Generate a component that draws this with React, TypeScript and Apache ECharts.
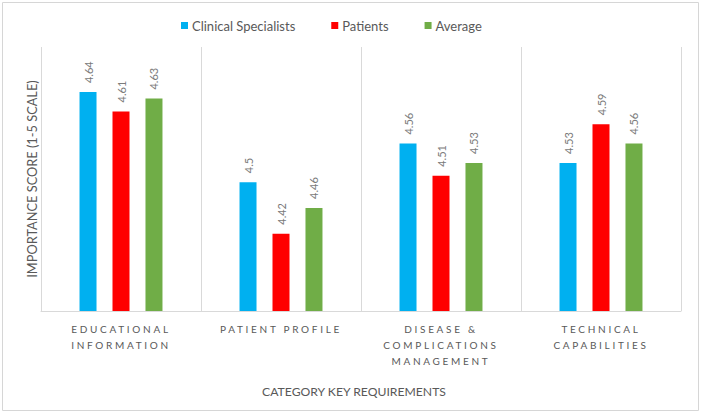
import React, { useEffect, useRef } from "react";
import * as echarts from "echarts";

const categories = [
  "EDUCATIONAL\nINFORMATION",
  "PATIENT PROFILE",
  "DISEASE &\nCOMPLICATIONS\nMANAGEMENT",
  "TECHNICAL\nCAPABILITIES",
];
const seriesNames = ["Clinical Specialists", "Patients", "Average"];
const clinicalSpecialists = [4.64, 4.5, 4.56, 4.53];
const patients = [4.61, 4.42, 4.51, 4.59];
const average = [4.63, 4.46, 4.53, 4.56];
const colors = ["#00B0F0", "#FF0000", "#70AD47"];
const yAxisName = "IMPORTANCE SCORE (1-5 SCALE)";
const xAxisTitle = "CATEGORY KEY REQUIREMENTS";

const labelLines = new Set(
  categories.flatMap((c) => c.split("\n").map((s) => s.trim()))
);

export default function App() {
  const ref = useRef<HTMLDivElement>(null);
  useEffect(() => {
    if (!ref.current) return;
    const chart = echarts.init(ref.current, undefined, { renderer: "svg" });
    const dataSets = [clinicalSpecialists, patients, average];
    const font = "Lato";
    chart.setOption({
      animation: false,
      backgroundColor: "#ffffff",
      textStyle: { fontFamily: font },
      legend: {
        left: 176,
        top: 14,
        itemWidth: 7,
        itemHeight: 7,
        itemGap: 36,
        icon: "rect",
        textStyle: { color: "#595959", fontSize: 13, fontFamily: font, padding: [0, 0, 0, -1] },
        data: seriesNames,
      },
      grid: { left: 41, right: 21, top: 47, bottom: 102 },
      xAxis: {
        type: "category",
        data: categories,
        axisLine: { show: true, lineStyle: { color: "#d9d9d9", width: 1 } },
        axisTick: { show: false },
        splitLine: { show: true, interval: 0, lineStyle: { color: "#d9d9d9", width: 1 } },
        axisLabel: {
          interval: 0,
          color: "#595959",
          fontSize: 10,
          fontFamily: font,
          lineHeight: 16,
          margin: 10,
        },
      },
      yAxis: {
        type: "value",
        min: 4.3,
        max: 4.71,
        name: yAxisName,
        nameLocation: "middle",
        nameGap: 3,
        nameTextStyle: { color: "#595959", fontSize: 12.8, fontFamily: font },
        axisLine: { show: false },
        axisTick: { show: false },
        axisLabel: { show: false },
        splitLine: { show: false },
      },
      graphic: [
        {
          type: "rect",
          shape: { x: 2.5, y: 2.5, width: 696, height: 408 },
          style: { fill: "none", stroke: "#d6d6d6", lineWidth: 1 },
          silent: true,
        },
        {
          type: "text",
          x: 354,
          y: 391,
          style: {
            text: xAxisTitle,
            fill: "#595959",
            fontSize: 12.2,
            fontFamily: font,
            textAlign: "center",
            textVerticalAlign: "middle",
          },
        },
      ],
      series: seriesNames.map((name, i) => ({
        name,
        type: "bar",
        data: dataSets[i],
        barWidth: 17,
        barGap: "94%",
        barCategoryGap: "48%",
        itemStyle: { color: colors[i] },
        label: {
          show: true,
          position: "top",
          rotate: 90,
          align: "left",
          verticalAlign: "middle",
          distance: 9,
          color: "#7b7b7b",
          fontSize: 11,
          fontFamily: font,
        },
      })),
    });
    const applySpacing = () => {
      if (!ref.current) return;
      ref.current.querySelectorAll("text").forEach((t) => {
        const s = (t.textContent || "").trim();
        if (labelLines.has(s)) {
          (t as SVGTextElement).style.letterSpacing = "2.7px";
        }
      });
    };
    applySpacing();
    chart.on("finished", applySpacing);
    const id = setTimeout(applySpacing, 50);
    return () => {
      clearTimeout(id);
      chart.dispose();
    };
  }, []);
  return (
    <div
      ref={ref}
      style={{ position: "fixed", left: 0, top: 0, width: 702, height: 413 }}
    />
  );
}
